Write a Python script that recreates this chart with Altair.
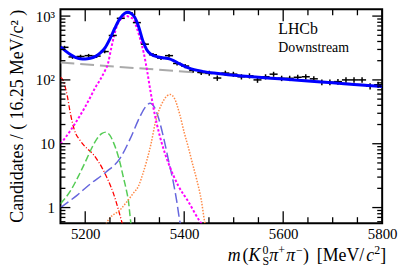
import math
import altair as alt
import pandas as pd

# ---------------- data ----------------
bin_low = 5150.0
bin_width = 16.25
counts = [324, 229, 233, 240, 236, 278, 497, 923, 1120, 790,
          363, 248, 220, 240, 181, 165, 141, 131, 128, 107,
          128, 123, 112, 116, 100, 112, 123, 106, 106, 110,
          112, 104, 92, 92, 94, 100, 100, 100, 80, 84]

total_m = [5150, 5160, 5170, 5180, 5190, 5200, 5210, 5220, 5230, 5240, 5250, 5260, 5270,
           5280, 5286, 5292, 5300, 5308, 5316, 5324, 5332, 5340, 5350, 5360, 5370, 5380,
           5390, 5400, 5410, 5420, 5440, 5460, 5500, 5550, 5600, 5650, 5700, 5750, 5800]
total_v = [330, 285, 250, 226, 214, 212, 218, 232, 262, 318, 440, 650, 910,
           1110, 1150, 1110, 960, 680, 420, 300, 255, 238, 226, 220, 214, 198,
           180, 165, 153, 145, 135, 128, 118, 110, 103, 96, 90, 84, 79]

bkg_m = [5150, 5800]
bkg_v = [187, 80]

sig_m = [5150, 5160, 5170, 5180, 5190, 5200, 5210, 5220, 5230, 5240, 5246, 5252, 5258, 5264,
         5270, 5277, 5284, 5290, 5298, 5304, 5311, 5318, 5325, 5331, 5338, 5345, 5355, 5368,
         5388, 5408, 5431, 5440]
sig_v = [10, 12.5, 16, 21, 28, 38, 53, 75, 100, 140, 180, 300, 480, 700,
         860, 980, 1000, 960, 880, 660, 440, 270, 140, 73, 36, 20, 10, 5,
         2.2, 1.25, 0.62, 0.5]

pur_m = [5150, 5184, 5211, 5241, 5271, 5291, 5311, 5322, 5331, 5340, 5348, 5358, 5368,
         5378, 5385, 5391, 5395]
pur_v = [1.0, 1.57, 2.37, 3.55, 6, 12, 27, 38, 43, 37, 25.5, 12.8, 5.65,
         2.5, 1.25, 0.62, 0.45]

org_m = [5240, 5244, 5271, 5297, 5308, 5316, 5324, 5333, 5342, 5350, 5358, 5365, 5372,
         5380, 5391, 5400, 5408, 5417, 5425, 5435, 5441, 5445]
org_v = [0.5, 0.59, 0.93, 1.67, 2.2, 3.3, 5.3, 10, 22, 35, 47, 56, 59,
         52, 28.8, 15, 9, 4.8, 2.8, 1.25, 0.62, 0.45]

grn_m = [5150, 5171, 5188, 5204, 5214, 5224, 5234, 5242, 5250, 5257, 5264, 5271, 5277,
         5283, 5287, 5292, 5294]
grn_v = [1.15, 1.87, 3.3, 6, 8.8, 12, 14.5, 15.2, 13.5, 10.5, 7.5, 4.8, 3,
         1.9, 1.32, 0.59, 0.45]

red_m = [5150, 5155, 5160, 5164, 5169, 5174, 5181, 5189, 5197, 5207, 5217, 5227, 5237,
         5247, 5257, 5267, 5274, 5278]
red_v = [110, 100, 75, 55, 33, 21.5, 14.3, 11.5, 9.5, 8, 6.7, 5.2, 3.8,
         2.6, 1.67, 0.93, 0.59, 0.45]

x_major = [5200, 5400, 5600, 5800]
x_minor = [5250, 5300, 5350, 5450, 5500, 5550, 5650, 5700, 5750]
y_major = [1, 10, 100, 1000]
y_minor = [0.6, 0.7, 0.8, 0.9, 2, 3, 4, 5, 6, 7, 8, 9,
           20, 30, 40, 50, 60, 70, 80, 90, 200, 300, 400, 500, 600, 700, 800, 900]

# ---------------- layout ----------------
FONT = "Liberation Serif"
W, H = 325, 216
xs = alt.Scale(domain=[5150, 5800], nice=False, zero=False)
ys = alt.Scale(type="log", domain=[0.57, 1276], nice=False)

x_axis = alt.Axis(values=x_major, ticks=False, domain=False, grid=False,
                  labelFont=FONT, labelFontSize=15, labelPadding=4,
                  labelColor="black", labelFlush=False, labelOverlap=False,
                  format="d", title=None)
y_axis = alt.Axis(values=y_major, ticks=False, domain=False, grid=False,
                  labelFont=FONT, labelFontSize=15, labelPadding=6,
                  labelColor="black", labelOverlap=False,
                  labelExpr="datum.value == 1 ? '1' : datum.value == 10 ? '10' : datum.value == 100 ? '10²' : '10³'",
                  title="Candidates / ( 16.25 MeV/c² )", titleFont=FONT,
                  titleFontSize=18, titleFontWeight="normal", titleColor="black",
                  titleX=-38, titleY=0, titleAlign="right", titleAngle=270,
                  titleBaseline="alphabetic")


def X(field):
    return alt.X(field, scale=xs, axis=x_axis)


def Y(field):
    return alt.Y(field, scale=ys, axis=y_axis)


centers = [bin_low + bin_width * (i + 0.5) for i in range(len(counts))]
pts = pd.DataFrame({
    "m": centers,
    "lo": [c - bin_width / 2 for c in centers],
    "hi": [c + bin_width / 2 for c in centers],
    "n": counts,
    "nlo": [n - math.sqrt(n) for n in counts],
    "nhi": [n + math.sqrt(n) for n in counts],
})


def curve(m, v, color, dash, width):
    df = pd.DataFrame({"m": m, "v": v})
    kw = dict(color=color, strokeWidth=width, clip=True, interpolate="monotone")
    if dash:
        kw["strokeDash"] = dash
    return alt.Chart(df).mark_line(**kw).encode(x=X("m:Q"), y=Y("v:Q"))


grey = curve(bkg_m, bkg_v, "#aaaaaa", [14, 6], 2)
red = curve(red_m, red_v, "#ff0000", [5, 2, 1, 2], 1.3)
green = curve(grn_m, grn_v, "#55cc55", [7, 3], 1.5)
purple = curve(pur_m, pur_v, "#6666dd", [10, 4], 1.5)
orange = curve(org_m, org_v, "#ff8844", [1.5, 1.5], 1.5)
magenta = curve(sig_m, sig_v, "#ff00ff", [2.5, 2], 2)
total = curve(total_m, total_v, "#0000ff", None, 3)

vbar = alt.Chart(pts).mark_rule(color="black", strokeWidth=1.5).encode(
    x=X("m:Q"), y=Y("nlo:Q"), y2="nhi:Q")
hbar = alt.Chart(pts).mark_rule(color="black", strokeWidth=1.5).encode(
    x=X("lo:Q"), x2="hi:Q", y=Y("n:Q"))


def xticks(vals, y0, y1):
    return alt.Chart(pd.DataFrame({"m": vals})).mark_rule(color="black", strokeWidth=1.3).encode(
        x=X("m:Q"), y=alt.value(y0), y2=alt.value(y1))


def yticks(vals, x0, x1):
    return alt.Chart(pd.DataFrame({"v": vals})).mark_rule(color="black", strokeWidth=1.3).encode(
        y=Y("v:Q"), x=alt.value(x0), x2=alt.value(x1))


ticks = [
    xticks(x_major, H, H - 12), xticks(x_minor, H, H - 6),
    xticks(x_major, 0, 12), xticks(x_minor, 0, 6),
    yticks(y_major, 0, 10), yticks(y_minor, 0, 5),
    yticks(y_major, W, W - 10), yticks(y_minor, W, W - 5),
]


def label(txt, x, y, size, italic=False):
    kw = dict(text=txt, font=FONT, fontSize=size, align="left", baseline="alphabetic", color="black")
    if italic:
        kw["fontStyle"] = "italic"
    return alt.Chart(pd.DataFrame({"t": [txt]})).mark_text(**kw).encode(
        x=alt.value(x), y=alt.value(y))


BL = 254
SUP = BL - 7
texts = [
    label("LHCb", 220, 25, 16),
    label("Downstream", 220, 43, 14),
    label("m", 169, BL, 18, True),
    label("(", 184, BL, 18),
    label("K", 190, BL, 18, True),
    label("0", 204, SUP, 12),
    label("S", 204, BL + 4, 12),
    label("π", 211, BL, 18, True),
    label("+", 220, SUP, 12),
    label("π", 228, BL, 18, True),
    label("−", 238, SUP, 12),
    label(")", 245, BL, 18),
    label("[MeV/", 259, BL, 18),
    label("c", 309, BL, 18, True),
    label("2", 317, SUP, 12),
    label("]", 323, BL, 18),
]

chart = alt.layer(
    grey, red, green, purple, orange, magenta, vbar, hbar, total, *ticks, *texts
).properties(
    width=W, height=H,
    padding={"left": 53, "top": 0, "right": 17, "bottom": 46},
    autosize=alt.AutoSizeParams(type="none"),
    background="white",
).configure_view(stroke="black", strokeWidth=2)

chart.save("out.html", embed_options={"renderer": "svg", "actions": False})
